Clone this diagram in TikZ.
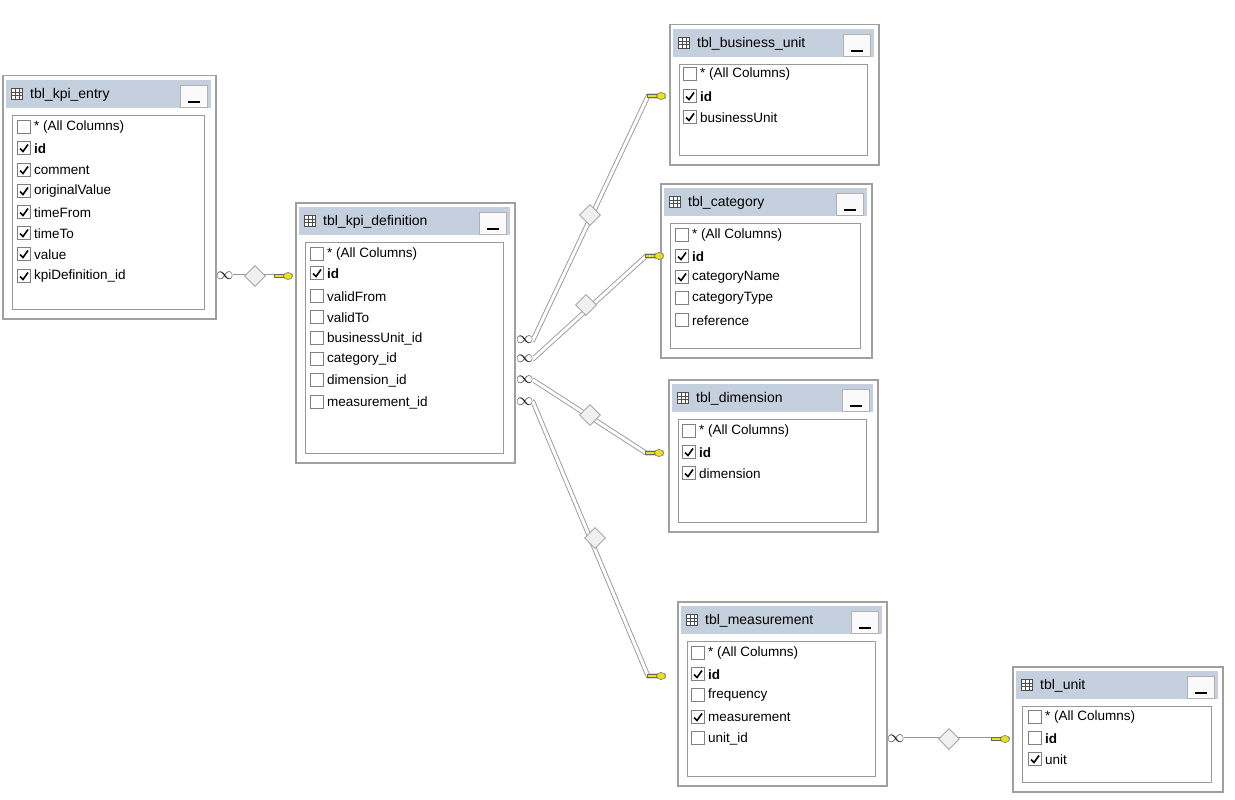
\documentclass[tikz,border=0pt]{standalone}
\usepackage{fontspec}
\setmainfont{Liberation Sans}
\usetikzlibrary{shapes.geometric,calc}
\definecolor{titlebg}{HTML}{C4D0DD}
\definecolor{frame}{HTML}{A0A0A0}
\definecolor{keyc}{HTML}{E8E020}
\tikzset{
  outer/.style={draw=frame,fill=white,line width=1.5pt},
  tbar/.style={fill=titlebg},
  inner/.style={draw=gray!80,fill=white,line width=0.8pt},
  cbox/.style={draw=gray,fill=white,line width=0.6pt,minimum size=13pt,inner sep=0pt},
  rtext/.style={anchor=west,font=\fontsize{13.5}{14}\selectfont,inner sep=0pt},
  ttext/.style={anchor=west,font=\fontsize{14}{14}\selectfont,inner sep=0pt},
  rel/.style={double=white,draw=gray!80,double distance=3pt,line width=0.9pt},
  dia/.style={diamond,draw=gray!80,fill=gray!12,minimum size=21pt,inner sep=0pt,line width=0.8pt},
  inf/.style={font=\fontsize{17}{17}\selectfont,inner sep=0pt,text=black!85},
}
% \tbl{name}{x1}{y1}{x2}{y2}{title}
\newcommand{\tbl}[6]{%
  \node[outer,minimum width=#4-#2,minimum height=#5-#3,anchor=north west,inner sep=0pt] (#1) at (#2,#3) {};
  \fill[tbar] (#2+4,#3+5) rectangle (#4-4,#3+33);
  \node[draw=black!70,fill=white,minimum size=11pt,inner sep=0pt,line width=0.6pt] (#1-ic) at (#2+15,#3+19) {};
  \draw[black!70,line width=0.5pt] (#2+9.5,#3+17)--(#2+20.5,#3+17) (#2+9.5,#3+20.5)--(#2+20.5,#3+20.5) (#2+13,#3+13.5)--(#2+13,#3+24.5) (#2+17,#3+13.5)--(#2+17,#3+24.5);
  \node[ttext] (#1-t) at (#2+28,#3+20) {#6};
  \node[fill=white!96!gray,draw=gray!60,minimum width=27pt,minimum height=22pt,inner sep=0pt] (#1-b) at (#4-21,#3+21) {};
  \draw[line width=1.6pt] (#4-27,#3+27)--(#4-15,#3+27);
  \draw[white,line width=1pt] (#2+3,#3+35)--(#4-3,#3+35);
  \node[inner,anchor=north west,minimum width=#4-#2-21,minimum height=#5-#3-49,inner sep=0pt] (#1-l) at (#2+10,#3+40) {};
}
% \rw{name}{x}{y}{checked 0/1}{text}
\newcommand{\rw}[5]{%
  \node[cbox] (#1) at (#2,#3) {};
  \ifnum#4=1 \draw[black,line width=1.6pt] (#2-4,#3+0.5)--(#2-1,#3+3.5)--(#2+4,#3-3.5);\fi
  \node[rtext] (#1-x) at (#2+10,#3+0.5) {#5};
}
\begin{document}
\begin{tikzpicture}[x=1pt,y=-1pt]
\useasboundingbox (0,0) rectangle (1235,800);
\fill[white] (0,0) rectangle (1235,800);

% tbl_kpi_entry
\tbl{ke}{2}{75}{215}{318}{tbl\_kpi\_entry}
\rw{ke1}{24}{127}{0}{* (All Columns)}
\rw{ke2}{24}{148}{1}{\textbf{id}}
\rw{ke3}{24}{170}{1}{comment}
\rw{ke4}{24}{191}{1}{originalValue}
\rw{ke5}{24}{212}{1}{timeFrom}
\rw{ke6}{24}{233}{1}{timeTo}
\rw{ke7}{24}{254}{1}{value}
\rw{ke8}{24}{276}{1}{kpiDefinition\_id}

% tbl_kpi_definition
\tbl{kd}{295}{202}{514}{462}{tbl\_kpi\_definition}
\rw{kd1}{317}{254}{0}{* (All Columns)}
\rw{kd2}{317}{273}{1}{\textbf{id}}
\rw{kd3}{317}{296}{0}{validFrom}
\rw{kd4}{317}{317}{0}{validTo}
\rw{kd5}{317}{338}{0}{businessUnit\_id}
\rw{kd6}{317}{359}{0}{category\_id}
\rw{kd7}{317}{380}{0}{dimension\_id}
\rw{kd8}{317}{402}{0}{measurement\_id}

% tbl_business_unit
\tbl{bu}{669}{24}{878}{164}{tbl\_business\_unit}
\rw{bu1}{690}{74}{0}{* (All Columns)}
\rw{bu2}{690}{96}{1}{\textbf{id}}
\rw{bu3}{690}{117}{1}{businessUnit}

% tbl_category
\tbl{ca}{660}{183}{871}{357}{tbl\_category}
\rw{ca1}{682}{235}{0}{* (All Columns)}
\rw{ca2}{682}{256}{1}{\textbf{id}}
\rw{ca3}{682}{277}{1}{categoryName}
\rw{ca4}{682}{298}{0}{categoryType}
\rw{ca5}{682}{320}{0}{reference}

% tbl_dimension
\tbl{di}{668}{379}{877}{531}{tbl\_dimension}
\rw{di1}{689}{431}{0}{* (All Columns)}
\rw{di2}{689}{452}{1}{\textbf{id}}
\rw{di3}{689}{473}{1}{dimension}

% tbl_measurement
\tbl{me}{677}{601}{886}{785}{tbl\_measurement}
\rw{me1}{698}{653}{0}{* (All Columns)}
\rw{me2}{698}{674}{1}{\textbf{id}}
\rw{me3}{698}{695}{0}{frequency}
\rw{me4}{698}{717}{1}{measurement}
\rw{me5}{698}{738}{0}{unit\_id}

% tbl_unit
\tbl{un}{1012}{666}{1222}{791}{tbl\_unit}
\rw{un1}{1035}{717}{0}{* (All Columns)}
\rw{un2}{1035}{738}{0}{\textbf{id}}
\rw{un3}{1035}{759}{1}{unit}

% connector end points
\coordinate (a0) at (217,276); \coordinate (a1) at (293,276);
\coordinate (b0) at (517,340); \coordinate (b1) at (666,96);
\coordinate (c0) at (517,359); \coordinate (c1) at (664,256);
\coordinate (d0) at (517,380); \coordinate (d1) at (664,453);
\coordinate (e0) at (517,402); \coordinate (e1) at (666,676);
\coordinate (f0) at (888,739); \coordinate (f1) at (1010,739);

\draw[rel] (a0)--(a1);
\draw[rel] (b0)--++(16,0)--($(b1)+(-18,0)$)--(b1);
\draw[rel] (c0)--++(16,0)--($(c1)+(-18,0)$)--(c1);
\draw[rel] (d0)--++(16,0)--($(d1)+(-18,0)$)--(d1);
\draw[rel] (e0)--++(16,0)--($(e1)+(-18,0)$)--(e1);
\draw[rel] (f0)--(f1);

\node[dia] (da) at (255,276) {};
\node[dia] (db) at (590,215) {};
\node[dia] (dc) at (586,305) {};
\node[dia] (dd) at (590,415) {};
\node[dia] (de) at (595,538) {};
\node[dia] (df) at (949,739) {};

\foreach \p in {a0,b0,c0,d0,e0,f0}{
  \fill[white] ($(\p)+(0,-3)$) rectangle ($(\p)+(16,3)$);
  \node[inf,anchor=west] at ($(\p)+(-1,-0.5)$) {$\infty$};
}
\foreach \p in {a1,b1,c1,d1,e1,f1}{
  \fill[keyc,draw=black!60,line width=0.5pt] ($(\p)+(-19,-2)$) rectangle ($(\p)+(-6,1.5)$);
  \fill[keyc,draw=black!60,line width=0.5pt] ($(\p)+(-5,0)$) ellipse (4.5 and 3.5);
}
\end{tikzpicture}
\end{document}
